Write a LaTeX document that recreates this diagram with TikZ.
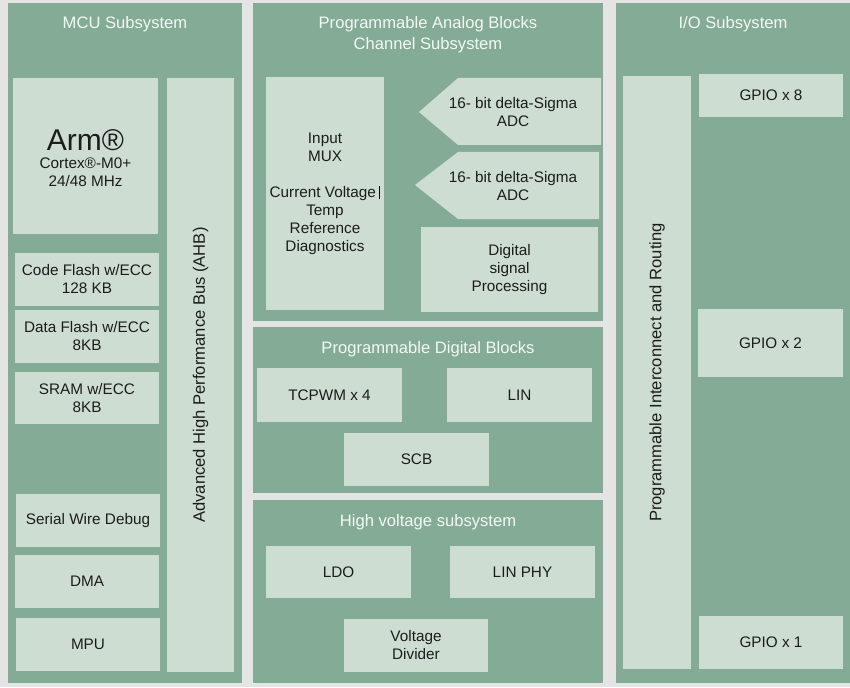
\documentclass[tikz,border=0pt]{standalone}
\usepackage{fontspec}
\setmainfont{Liberation Sans}
\definecolor{bgc}{HTML}{E4E4E4}
\definecolor{panelc}{HTML}{84AB96}
\definecolor{boxc}{HTML}{CEDDD1}
\definecolor{txtc}{HTML}{1C1C1C}
\definecolor{titc}{HTML}{F4F8F4}
\newcommand\bx[7]{\node[#1, anchor=north west, minimum width={(#5-#3)*1pt}, minimum height={(#6-#4)*1pt}] (#2) at (#3,#4) {#7};}
\begin{document}
\begin{tikzpicture}[x=1pt,y=-1pt,
  panel/.style={fill=panelc, draw=none, inner sep=0pt, outer sep=0pt},
  blk/.style={fill=boxc, draw=none, inner sep=0pt, outer sep=0pt, align=center, text=txtc,
    font=\fontsize{15.3}{18}\selectfont},
  ttl/.style={text=titc, anchor=base, inner sep=0pt, font=\fontsize{16.6}{19}\selectfont},
  rot/.style={text=txtc, rotate=90, inner sep=0pt, font=\fontsize{16.6}{19}\selectfont},
  lbl/.style={text=txtc, align=center, inner sep=0pt, font=\fontsize{15.3}{18}\selectfont}]
\useasboundingbox (0,0) rectangle (850,687);
\fill[bgc] (0,0) rectangle (850,687);
% panels
\bx{panel}{mcu}{8}{3}{242}{683}{}
\bx{panel}{ana}{253}{3}{603}{321}{}
\bx{panel}{dig}{253}{327}{603}{493}{}
\bx{panel}{hv}{253}{500}{603}{683}{}
\bx{panel}{io}{616}{3}{850}{683}{}
% titles
\node[ttl] (mcut) at (125,29) {MCU Subsystem};
\node[ttl] (anat1) at (428,29) {Programmable Analog Blocks};
\node[ttl] (anat2) at (428,50) {Channel Subsystem};
\node[ttl] (iot) at (733,29) {I/O Subsystem};
\node[ttl] (digt) at (428,353) {Programmable Digital Blocks};
\node[ttl] (hvt) at (428,526) {High voltage subsystem};
% MCU
\bx{blk}{arm}{13}{78}{158}{234}{}
\node[lbl] (armt) at (85.5,158.5) {{\fontsize{30}{30}\selectfont Arm®}\\[0pt]Cortex®-M0+\\24/48 MHz};
\bx{blk}{ahb}{167}{78}{234}{672}{}
\node[rot] (ahbt) at (ahb.center) {Advanced High Performance Bus (AHB)};
\bx{blk}{cflash}{15}{253}{159}{306}{Code Flash w/ECC\\128 KB}
\bx{blk}{dflash}{15}{310}{159}{363}{Data Flash w/ECC\\8KB}
\bx{blk}{sram}{15}{372}{159}{424}{SRAM w/ECC\\8KB}
\bx{blk}{swd}{16}{494}{160}{547}{Serial Wire Debug}
\bx{blk}{dma}{15}{555}{159}{608}{DMA}
\bx{blk}{mpu}{16}{618}{160}{671}{MPU}
% Analog
\bx{blk}{mux}{266}{77}{384}{310}{Input\\MUX\\[18pt]Current Voltage\,{\color{black}\rule[-2pt]{1.8pt}{13.5pt}}\\Temp\\Reference\\Diagnostics}
\fill[boxc] (419,112) -- (458,78) -- (601,78) -- (601,145) -- (458,145) -- cycle;
\node[lbl] (adc1) at (513,112) {16- bit delta-Sigma\\ADC};
\fill[boxc] (415,185) -- (458,152) -- (599,152) -- (599,219) -- (458,219) -- cycle;
\node[lbl] (adc2) at (513,186) {16- bit delta-Sigma\\ADC};
\bx{blk}{dsp}{421}{227}{598}{312}{Digital\\signal\\Processing}
% Digital
\bx{blk}{tcpwm}{257}{368}{402}{422}{TCPWM x 4}
\bx{blk}{lin}{447}{368}{592}{422}{LIN}
\bx{blk}{scb}{344}{433}{489}{486}{SCB}
% HV
\bx{blk}{ldo}{266}{546}{411}{598}{LDO}
\bx{blk}{linphy}{450}{546}{595}{598}{LIN PHY}
\bx{blk}{vdiv}{344}{619}{488}{672}{Voltage\\Divider}
% IO
\bx{blk}{route}{623}{76}{691}{669}{}
\node[rot] (routet) at (route.center) {Programmable Interconnect and Routing};
\bx{blk}{gpio8}{699}{74}{843}{117}{GPIO x 8}
\bx{blk}{gpio2}{698}{309}{843}{377}{GPIO x 2}
\bx{blk}{gpio1}{699}{616}{843}{669}{GPIO x 1}
\end{tikzpicture}
\end{document}
